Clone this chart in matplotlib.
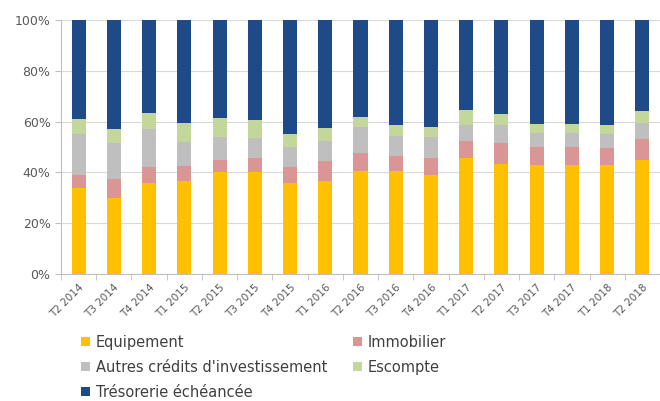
import numpy as np
import matplotlib
matplotlib.use("Agg")
from matplotlib import pyplot as plt

quarters = ["T2 2014", "T3 2014", "T4 2014", "T1 2015", "T2 2015", "T3 2015",
            "T4 2015", "T1 2016", "T2 2016", "T3 2016", "T4 2016", "T1 2017",
            "T2 2017", "T3 2017", "T4 2017", "T1 2018", "T2 2018"]

# parts in %
equipement = [34, 30, 36, 36.5, 40, 40, 36, 36.5, 40.5, 40.5, 39, 45.5, 43.5, 43, 43, 43, 45]
immobilier = [5, 7.5, 6, 6, 5, 5.5, 6, 8, 7, 6, 6.5, 7, 8, 7, 7, 6.5, 8]
autres = [16, 14, 15, 9.5, 9, 8, 8, 8, 10.5, 8, 8.5, 6, 7, 5.5, 5.5, 5.5, 6.5]
escompte = [6, 5.5, 6.5, 7.5, 7.5, 7, 5, 5, 4, 4, 4, 6, 4.5, 3.5, 3.5, 3.5, 4.5]
tresorerie = [39, 43, 36.5, 40.5, 38.5, 39.5, 45, 42.5, 38, 41.5, 42, 35.5, 37, 41, 41, 41.5, 36]

series = [("Equipement", equipement, "#FFC000"),
          ("Immobilier", immobilier, "#DA9694"),
          ("Autres crédits d'investissement", autres, "#BFBFBF"),
          ("Escompte", escompte, "#C4D79B"),
          ("Trésorerie échéancée", tresorerie, "#1F4A88")]

fig = plt.figure(figsize=(6.6, 4.01), dpi=100)
ax = fig.add_axes([61 / 660, 1 - 274 / 401, 599 / 660, 254 / 401])

x = np.arange(len(quarters))
tot = np.sum([s[1] for s in series], axis=0)
bottom = np.zeros(len(quarters))
bars = []
for name, vals, col in series:
    v = np.array(vals) / tot * 100
    b = ax.bar(x, v, 0.4, bottom=bottom, color=col, label=name, zorder=3)
    bars.append(b)
    bottom += v

ax.set_xlim(-0.5, len(quarters) - 0.5)
ax.set_ylim(0, 100)
ax.set_yticks(range(0, 101, 20))
ax.set_yticklabels([f"{t}%" for t in range(0, 101, 20)], fontsize=9, color="#595959")
ax.yaxis.grid(True, color="#D9D9D9", lw=0.8, zorder=0)
ax.set_xticks(x)
ax.set_xticklabels(quarters, rotation=45, ha="right", rotation_mode="anchor",
                   fontsize=7.5, color="#595959")
ax.tick_params(axis="x", length=0, pad=6)
ax.set_xticks(np.arange(-0.5, len(quarters)), minor=True)
ax.tick_params(axis="x", which="minor", length=4, color="#BFBFBF")
ax.tick_params(axis="y", length=4, color="#BFBFBF")
for s in ["top", "right"]:
    ax.spines[s].set_visible(False)
ax.spines["left"].set_color("#BFBFBF")
ax.spines["bottom"].set_color("#BFBFBF")

# Excel fills the legend row by row
order = [0, 2, 4, 1, 3]
fig.legend([bars[i] for i in order], [series[i][0] for i in order],
           loc="upper left", bbox_to_anchor=(81 / 660, 1 - 335 / 401), ncol=2,
           frameon=False, fontsize=10.5, handlelength=0.6, handleheight=0.6,
           handletextpad=0.4, columnspacing=1.8, labelspacing=0.68,
           borderpad=0, borderaxespad=0, labelcolor="#404040")

fig.savefig("out.png", dpi=100)
